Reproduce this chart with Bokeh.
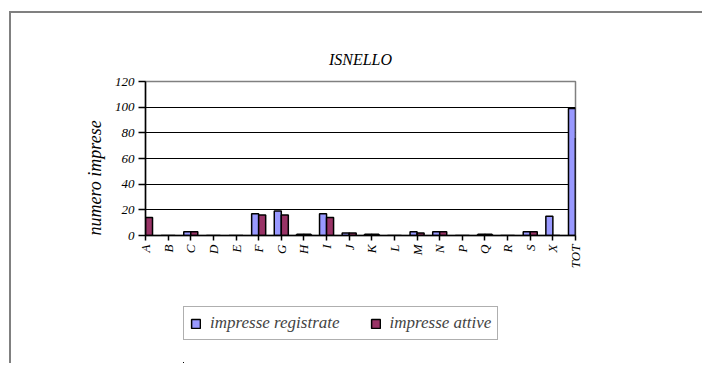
from bokeh.plotting import figure
from bokeh.models import ColumnDataSource, FixedTicker, Legend, LegendItem, Title
from bokeh.layouts import column
from bokeh.embed import file_html
from bokeh.resources import INLINE
import math

categories = ["A", "B", "C", "D", "E", "F", "G", "H", "I", "J", "K", "L",
              "M", "N", "P", "Q", "R", "S", "X", "TOT"]
registrate = [14, 0, 3, 0, 0, 17, 19, 1, 17, 2, 1, 0, 3, 3, 0, 1, 0, 3, 15, 99]
attive = [14, 0, 3, 0, 0, 16, 16, 1, 14, 2, 1, 0, 2, 3, 0, 1, 0, 3, 0, 76]
y_ticks = [0, 20, 40, 60, 80, 100, 120]

FONT = "Liberation Serif"
BLUE = "#9999FF"
RED = "#993366"

idx = list(range(len(categories)))
bw = 0.31
src_reg = ColumnDataSource(dict(x=[i - bw / 2 for i in idx], top=registrate))
src_att = ColumnDataSource(dict(x=[i + bw / 2 for i in idx], top=attive))

W = 691
left, top = 134, 68
fw, fh = 430, 154

p = figure(frame_width=fw, frame_height=fh, output_backend="svg", toolbar_location=None,
           x_range=(0, len(categories) - 1), y_range=(0, 120),
           min_border_left=left, min_border_top=top,
           min_border_right=W - left - fw, min_border_bottom=60)
p.frame_align = False

p.vbar(x="x", top="top", width=bw, source=src_reg, fill_color=BLUE,
       line_color="black", line_width=1.5)
p.vbar(x="x", top="top", width=bw, source=src_att, fill_color=RED,
       line_color="black", line_width=1.5)

p.title.text = "ISNELLO"
p.title.align = "center"
p.title.text_font = FONT
p.title.text_font_style = "italic"
p.title.text_font_size = "16px"
p.title.text_color = "black"
p.title.standoff = 27

p.outline_line_color = "#808080"
p.outline_line_width = 1.5
p.xgrid.visible = False
p.ygrid.ticker = FixedTicker(ticks=y_ticks)
p.ygrid.grid_line_color = "black"
p.ygrid.grid_line_width = 1

p.yaxis.ticker = FixedTicker(ticks=y_ticks)
p.yaxis.major_label_text_font = FONT
p.yaxis.major_label_text_font_style = "italic"
p.yaxis.major_label_text_font_size = "13px"
p.yaxis.major_label_text_color = "black"
p.yaxis.major_tick_out = 7

# y-axis title, aligned to the bottom of the plot area as in the reference
ytitle = Title(text="numero imprese", align="left", text_font=FONT,
               text_font_style="italic", text_font_size="18px",
               text_color="black", standoff=14)
p.add_layout(ytitle, "left")

p.xaxis.ticker = FixedTicker(ticks=idx)
p.xaxis.major_label_overrides = {i: c for i, c in zip(idx, categories)}
p.xaxis.major_label_orientation = math.pi / 2
p.xaxis.major_label_text_font = FONT
p.xaxis.major_label_text_font_style = "italic"
p.xaxis.major_label_text_font_size = "13px"
p.xaxis.major_label_text_color = "black"
p.xaxis.major_tick_out = 5

for ax in (p.xaxis, p.yaxis):
    ax.axis_line_color = "black"
    ax.axis_line_width = 1.5
    ax.major_tick_line_color = "black"
    ax.major_tick_line_width = 1.5
    ax.major_tick_in = 0
    ax.minor_tick_line_color = None
    ax.major_label_standoff = 4

# legend drawn in its own small figure placed below the chart
# (same sources, but the ranges keep the bars out of view)
pl = figure(width=360, height=57, output_backend="svg", toolbar_location=None,
            x_axis_type=None, y_axis_type=None, x_range=(1000, 1001), y_range=(1000, 1001),
            min_border=0, margin=(11, 0, 0, 172))
pl.frame_align = False
pl.outline_line_color = None
pl.grid.visible = False
l1 = pl.vbar(x="x", top="top", width=bw, source=src_reg, fill_color=BLUE,
             line_color="black", line_width=1.5)
l2 = pl.vbar(x="x", top="top", width=bw, source=src_att, fill_color=RED,
             line_color="black", line_width=1.5)

legend = Legend(items=[LegendItem(label="impresse registrate", renderers=[l1]),
                       LegendItem(label="impresse attive", renderers=[l2])],
                orientation="horizontal", location="top_left")
legend.label_text_font = FONT
legend.label_text_font_style = "italic"
legend.label_text_font_size = "17px"
legend.glyph_width = 11
legend.glyph_height = 11
legend.label_standoff = 9
legend.spacing = 30
legend.padding = 6
legend.margin = 0
legend.border_line_color = "#606060"
legend.border_line_width = 1
legend.background_fill_alpha = 1
legend.label_height = 14
legend.label_text_baseline = "middle"
pl.add_layout(legend, "center")

layout = column(p, pl, margin=(11, 0, 0, 9), spacing=0,
                styles={"border-left": "2px solid #808080",
                        "border-top": "2px solid #808080"})

open("out.html", "w").write(file_html(layout, INLINE))
